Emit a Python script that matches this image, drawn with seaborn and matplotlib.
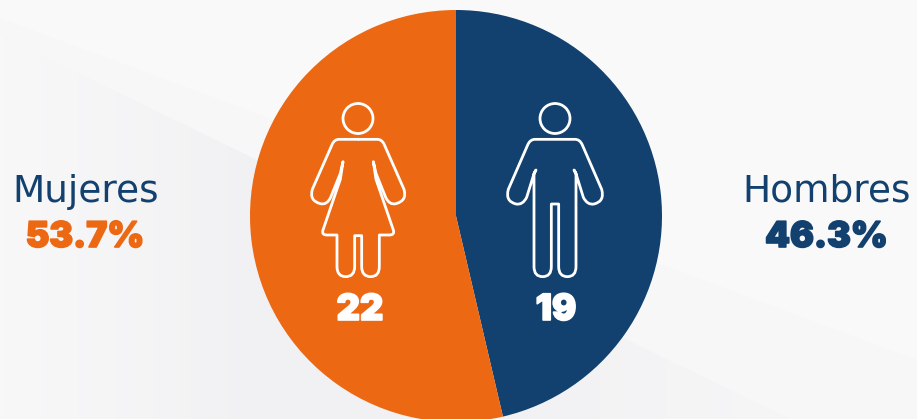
import matplotlib
matplotlib.use("Agg")
import matplotlib.pyplot as plt
import matplotlib.patheffects as pe
from matplotlib.path import Path
from matplotlib.patches import PathPatch, Circle, Polygon
from matplotlib.colors import LinearSegmentedColormap
import numpy as np
import seaborn as sns

categories = ["Hombres", "Mujeres"]
counts = [19, 22]
percents = ["46.3%", "53.7%"]
colors = ["#12406F", "#EC6813"]

sns.set_theme(style="white")
plt.rcParams["font.family"] = ["Inter", "DejaVu Sans"]
W, H = 917, 419
fig = plt.figure(figsize=(W / 100, H / 100), dpi=100, facecolor="#F9F9FA")
ax = fig.add_axes([0, 0, 1, 1])
Y = lambda y: H - y

# background facets
ax.add_patch(Polygon([(0, Y(18)), (917, Y(360)), (917, Y(419)), (0, Y(419))], fc="#F7F7F8", ec="none", zorder=0))
shade = LinearSegmentedColormap.from_list("shade", ["#F8F8F9", "#F1F1F3", "#F2F2F4", "#F6F6F7"])
ramp = ax.imshow(np.linspace(0, 1, 256)[None, :], cmap=shade, extent=(0, 800, 0, H),
                 aspect="auto", zorder=0.5)
facet = Polygon([(0, Y(35)), (790, Y(419)), (0, Y(419))], transform=ax.transData, fc="none", ec="none")
ax.add_patch(facet)
ramp.set_clip_path(facet)

ax.pie(counts, colors=sns.color_palette(colors), center=(456, Y(216)), radius=206,
       startangle=90, counterclock=False, frame=True,
       wedgeprops=dict(linewidth=0, zorder=2))
ax.set_xlim(0, W)
ax.set_ylim(0, H)
ax.set_aspect("equal")
ax.axis("off")

M, L, Q = Path.MOVETO, Path.LINETO, Path.CURVE3

def figure_path(half, cx, ox, oy):
    """half: list of segments in zoomed crop units, mirrored about cx."""
    verts, codes = [], []
    def add(p, c):
        verts.append((ox + p[0] / 3, Y(oy + p[1] / 3)))
        codes.append(c)
    add(half[0], M)
    for seg in half[1:]:
        if len(seg) == 2:
            add(seg, L)
        else:
            add(seg[:2], Q)
            add(seg[2:], Q)
    pts = [half[0]]
    kinds = []
    for seg in half[1:]:
        if len(seg) == 2:
            kinds.append(("L", seg, None))
            pts.append(seg)
        else:
            kinds.append(("Q", seg[2:], seg[:2]))
            pts.append(seg[2:])
    for i in range(len(kinds) - 1, -1, -1):
        kind, _, ctrl = kinds[i]
        target = pts[i]
        mt = (2 * cx - target[0], target[1])
        if kind == "L":
            add(mt, L)
        else:
            add((2 * cx - ctrl[0], ctrl[1]), Q)
            add(mt, Q)
    return Path(verts, codes)

woman = [(204, 148), (262, 148), (275, 148, 282, 162), (342, 298), (352, 332, 318, 341),
         (298, 346, 287, 322), (258, 250), (250, 215), (258, 268), (310, 420),
         (315, 435, 298, 435), (268, 435), (268, 530), (268, 560, 242, 560),
         (215, 560, 215, 530), (215, 437), (204, 437)]
man = [(195, 148), (255, 148), (270, 148, 277, 165), (335, 298), (345, 334, 312, 342),
       (292, 346, 280, 322), (257, 248), (252, 240), (258, 252), (258, 530),
       (258, 560, 232, 560), (206, 560, 206, 530), (206, 342), (195, 342)]

icon = dict(fc="none", ec="white", lw=2.0, joinstyle="round", zorder=5)
ax.add_patch(PathPatch(figure_path(woman, 204.5, 290, 90), **icon))
ax.add_patch(Circle((358, Y(118.5)), 15, **icon))
ax.add_patch(PathPatch(figure_path(man, 195, 490, 90), **icon))
ax.add_patch(Circle((555, Y(118.5)), 15, **icon))

heavy = lambda c, w: [pe.withStroke(linewidth=w, foreground=c)]
for x, n in zip((556, 360), counts):
    ax.text(x, Y(320), str(n), color="white", fontsize=26, fontweight="black", ha="center",
            va="baseline", path_effects=heavy("white", 1.2), zorder=6)

label_x = {"Hombres": 826.5, "Mujeres": 86}
pct_x = {"Hombres": 826.5, "Mujeres": 85}
for cat, pct, col in zip(categories, percents, colors):
    ax.text(label_x[cat], Y(202), cat, color="#12406F", fontsize=27,
            family=["DejaVu Sans"], ha="center", va="baseline")
    ax.text(pct_x[cat], Y(247), pct, color=col, fontsize=25.5, fontweight="black",
            ha="center", va="baseline", path_effects=heavy(col, 1.2))

fig.savefig("out.png", dpi=100, facecolor=fig.get_facecolor())
